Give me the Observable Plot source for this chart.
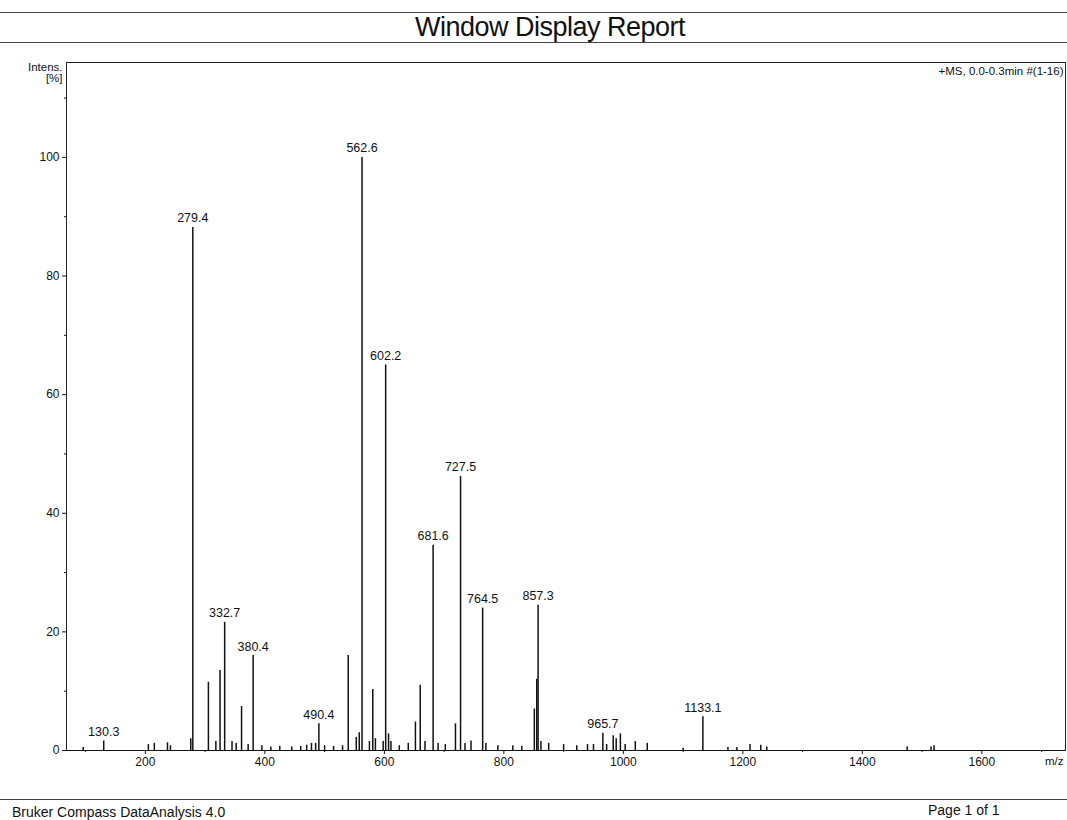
<!DOCTYPE html>
<html>
<head>
<meta charset="utf-8">
<script src="https://cdn.jsdelivr.net/npm/d3@7"></script>
<script src="https://cdn.jsdelivr.net/npm/@observablehq/plot@0.6"></script>
<style>
  html, body { margin: 0; padding: 0; background: #fff; }
  body { width: 1067px; height: 820px; position: relative; font-family: "Liberation Sans", Arial, sans-serif; color: #111; overflow: hidden; }
  .hline { position: absolute; left: 0; width: 1067px; height: 0; border-top: 1px solid #444; }
  #title { position: absolute; top: 12px; left: 415px; white-space: nowrap; font-size: 27px; letter-spacing: -0.5px; line-height: 30px; }
  #chart { position: absolute; top: 50px; left: 0; }
  #foot-left { position: absolute; left: 12px; top: 804px; font-size: 14px; }
  #foot-right { position: absolute; left: 928px; top: 802px; font-size: 14px; }
</style>
</head>
<body>
<div class="hline" style="top:12px"></div>
<div id="title">Window Display Report</div>
<div class="hline" style="top:42px"></div>
<div id="chart"></div>
<div class="hline" style="top:799px"></div>
<div id="foot-left">Bruker Compass DataAnalysis 4.0</div>
<div id="foot-right">Page 1 of 1</div>
<script>
// Labelled peaks (m/z, relative intensity %)
const labelMz = [130.3, 279.4, 332.7, 380.4, 490.4, 562.6, 602.2, 681.6, 727.5, 764.5, 857.3, 965.7, 1133.1];
const labelInt = [1.6, 88.2, 21.6, 16.0, 4.5, 100, 65.0, 34.6, 46.2, 24.0, 24.5, 2.9, 5.7];

// Unlabelled minor peaks (estimated)
const minorMz = [96, 205, 215, 237, 242, 276, 305.5, 318, 325, 345, 352, 361, 372, 395, 410, 425, 445, 460, 470, 478, 485, 500, 515, 530,
  539.5, 553, 558, 575, 580.6, 585, 598, 607, 611, 625, 640, 652, 660, 668, 690, 702, 719, 735, 745, 770, 790, 815, 830,
  851, 855, 862, 875, 900, 922, 940, 950, 972, 983, 988, 995, 1003, 1020, 1040, 1100, 1175, 1190, 1212, 1230, 1240, 1475, 1515, 1520];
const minorInt = [0.5, 1.0, 1.2, 1.3, 0.8, 2.0, 11.5, 1.5, 13.5, 1.5, 1.2, 7.4, 1.0, 0.8, 0.6, 0.7, 0.6, 0.7, 0.9, 1.2, 1.2, 0.8, 0.7, 0.8,
  16.0, 2.2, 3.0, 1.5, 10.3, 2.0, 1.5, 2.8, 1.5, 0.8, 1.2, 4.8, 11.0, 1.5, 1.2, 1.0, 4.5, 1.2, 1.6, 1.2, 0.8, 0.8, 0.7,
  7.0, 12.0, 1.5, 1.2, 1.0, 0.8, 1.0, 1.0, 1.0, 2.5, 2.0, 2.8, 1.0, 1.5, 1.2, 0.4, 0.5, 0.5, 1.0, 0.9, 0.6, 0.6, 0.6, 0.8];

const xTicks = [200, 400, 600, 800, 1000, 1200, 1400, 1600];
const xMinor = [100, 300, 500, 700, 900, 1100, 1300, 1500, 1700];
const yTicks = [0, 20, 40, 60, 80, 100];
const yMinor = [10, 30, 50, 70, 90, 110];

const labelled = labelMz.map((mz, i) => ({mz, i: labelInt[i]}));
const minor = minorMz.map((mz, i) => ({mz, i: minorInt[i]}));
const peaks = labelled.concat(minor);

const chart = Plot.plot({
  width: 1067,
  height: 730,
  marginLeft: 66,
  marginRight: 2,
  marginTop: 12,
  marginBottom: 30,
  x: {domain: [68, 1740]},
  y: {domain: [0, 116]},
  style: {fontFamily: "Liberation Sans, Arial, sans-serif", fontSize: "12px", background: "#fff", color: "#111"},
  marks: [
    Plot.frame({stroke: "#222"}),
    Plot.axisY({ticks: yTicks, tickSize: 4, tickPadding: 3, label: null}),
    Plot.axisY({ticks: yMinor, tickSize: 2, text: null, label: null}),
    Plot.axisX({ticks: xTicks, tickSize: 4, tickPadding: 3, tickFormat: d3.format("d"), label: null}),
    Plot.axisX({ticks: xMinor, tickSize: 2, text: null, label: null}),
    Plot.ruleY([0], {stroke: "#111"}),
    Plot.ruleX(peaks, {x: "mz", y1: 0, y2: "i", stroke: "#111", strokeWidth: 1.5}),
    Plot.text(labelled, {x: "mz", y: "i", text: d => d.mz.toFixed(1), dy: -5, lineAnchor: "bottom", fontSize: 12.5}),
    Plot.text(["+MS, 0.0-0.3min #(1-16)"], {frameAnchor: "top-right", dx: -2, dy: 4, lineAnchor: "top", textAnchor: "end", fontSize: 11.5}),
    Plot.text(["Intens.\n[%]"], {frameAnchor: "top-left", dx: -4, dy: 0, lineAnchor: "top", textAnchor: "end", fontSize: 11.5}),
    Plot.text(["m/z"], {frameAnchor: "bottom-right", dx: -2, dy: 6, lineAnchor: "top", textAnchor: "end", fontSize: 11.5})
  ]
});
document.getElementById("chart").appendChild(chart);
</script>
</body>
</html>
